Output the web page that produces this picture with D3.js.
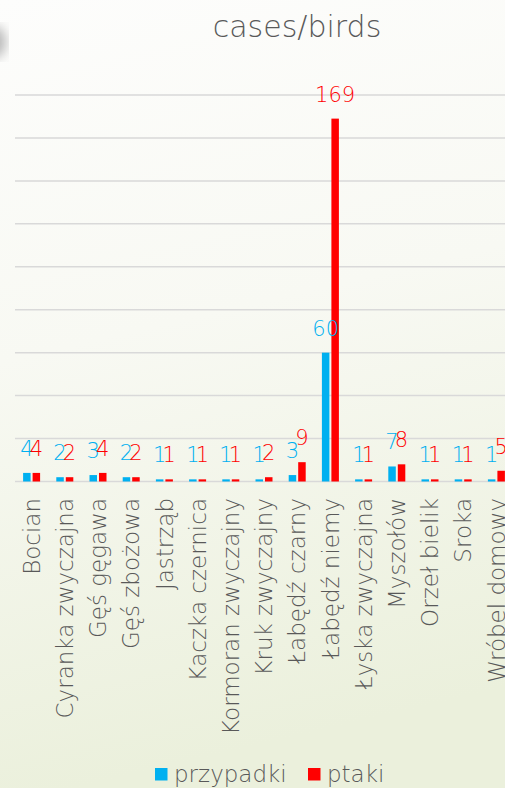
<!DOCTYPE html>
<html>
<head>
<meta charset="utf-8">
<script src="https://cdn.jsdelivr.net/npm/d3@7"></script>
<style>
  html, body { margin: 0; padding: 0; overflow: hidden; }
  text { font-family: "DejaVu Sans", sans-serif; font-weight: 200; }
</style>
</head>
<body>
<div id="chart"></div>
<script>
var birds = ["Bocian", "Cyranka zwyczajna", "Gęś gęgawa", "Gęś zbożowa", "Jastrząb",
    "Kaczka czernica", "Kormoran zwyczajny", "Kruk zwyczajny", "Łabędź czarny",
    "Łabędź niemy", "Łyska zwyczajna", "Myszołów", "Orzeł bielik", "Sroka", "Wróbel domowy"];
var przypadki = [4, 2, 3, 2, 1, 1, 1, 1, 3, 60, 1, 7, 1, 1, 1];
var ptaki = [4, 2, 4, 2, 1, 1, 1, 2, 9, 169, 1, 8, 1, 1, 5];
var seriesNames = ["przypadki", "ptaki"];
var seriesColors = ["#00B0F0", "#FF0000"];
var yTicks = [0, 20, 40, 60, 80, 100, 120, 140, 160, 180];

function drawChart() {
    var width = 505, height = 788;
    var svg = d3.select("#chart").append("svg")
        .attr("width", width).attr("height", height);

    var defs = svg.append("defs");
    var grad = defs.append("linearGradient").attr("id", "bg")
        .attr("x1", 0).attr("y1", 0).attr("x2", 0.15).attr("y2", 1);
    grad.append("stop").attr("offset", "0%").attr("stop-color", "#fdfdfc");
    grad.append("stop").attr("offset", "45%").attr("stop-color", "#f8f9f3");
    grad.append("stop").attr("offset", "100%").attr("stop-color", "#ebf0dc");
    defs.append("filter").attr("id", "blur")
        .append("feGaussianBlur").attr("stdDeviation", 6);

    svg.append("rect").attr("width", width).attr("height", height).attr("fill", "url(#bg)");
    // shadow at the top left edge
    svg.append("ellipse").attr("cx", -6).attr("cy", 42).attr("rx", 12).attr("ry", 16)
        .attr("fill", "#b8b8b8").attr("filter", "url(#blur)");

    var left = 15, band = 33.2;
    var x = d3.scaleBand().domain(birds.concat(["_"]).map(function (d, i) { return i; }))
        .range([left, left + band * 16]).paddingInner(0).paddingOuter(0);
    var y = d3.scaleLinear().domain([0, 180]).range([481.5, 95]);
    var barW = 7.5, gap = 2;

    // gridlines
    svg.append("g").selectAll("line").data(yTicks).enter().append("line")
        .attr("x1", left).attr("x2", width)
        .attr("y1", function (d) { return y(d); })
        .attr("y2", function (d) { return y(d); })
        .attr("stroke", "#d9d9d9").attr("stroke-width", 1.5);

    var series = [przypadki, ptaki];
    series.forEach(function (vals, s) {
        var off = s == 0 ? -gap / 2 - barW : gap / 2;
        svg.append("g").selectAll("rect").data(vals).enter().append("rect")
            .attr("x", function (d, i) { return x(i) + x.bandwidth() / 2 + off; })
            .attr("y", function (d) { return y(d); })
            .attr("width", barW)
            .attr("height", function (d) { return y(0) - y(d); })
            .attr("fill", seriesColors[s]);
    });
    series.forEach(function (vals, s) {
        var off = s == 0 ? -gap / 2 - barW / 2 : gap / 2 + barW / 2;
        svg.append("g").selectAll("text").data(vals).enter().append("text")
            .attr("x", function (d, i) { return x(i) + x.bandwidth() / 2 + off; })
            .attr("y", function (d) { return y(d) - 17; })
            .attr("text-anchor", "middle")
            .attr("font-size", 21)
            .attr("fill", seriesColors[s])
            .text(function (d) { return d; });
    });

    // category labels
    svg.append("g").selectAll("text").data(birds).enter().append("text")
        .attr("transform", function (d, i) {
            return "translate(" + (x(i) + x.bandwidth() / 2) + ",498) rotate(-90)";
        })
        .attr("dy", "0.36em")
        .attr("text-anchor", "end")
        .attr("font-size", 23)
        .attr("fill", "#595959")
        .text(function (d) { return d; });

    svg.append("text")
        .attr("x", 297).attr("y", 37)
        .attr("text-anchor", "middle")
        .attr("font-size", 30)
        .attr("fill", "#595959")
        .text("cases/birds");

    // legend
    var legendX = [155, 308];
    var legend = svg.append("g").selectAll("g").data(seriesNames).enter().append("g")
        .attr("transform", function (d, i) { return "translate(" + legendX[i] + ",768)"; });
    legend.append("rect")
        .attr("width", 12.5).attr("height", 12.5)
        .attr("fill", function (d, i) { return seriesColors[i]; });
    legend.append("text")
        .attr("x", 19).attr("y", 14)
        .attr("font-size", 23)
        .attr("fill", "#595959")
        .text(function (d) { return d; });
}

drawChart();
</script>
</body>
</html>
